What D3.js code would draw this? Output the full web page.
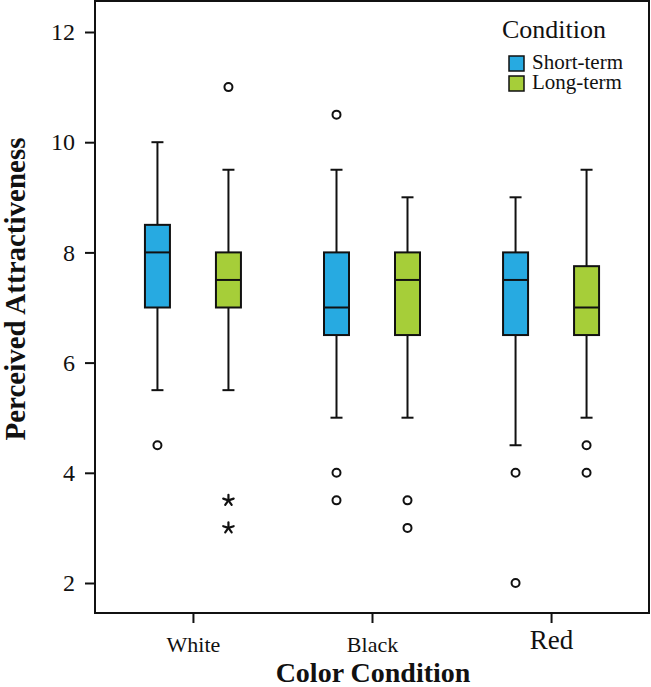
<!DOCTYPE html>
<html>
<head>
<meta charset="utf-8">
<script src="https://cdn.jsdelivr.net/npm/d3@7"></script>
<style>
  html, body { margin: 0; padding: 0; background: #fff; }
  svg { display: block; font-family: "Liberation Serif", "Times New Roman", serif; }
</style>
</head>
<body>
<svg id="chart" width="651" height="687"></svg>
<script>
(function () {
    'use strict';

    const categories = ['White', 'Black', 'Red'];
    const series = ['Short-term', 'Long-term'];
    const seriesColors = ['#27aae1', '#a6ce39'];
    const yTicks = [2, 4, 6, 8, 10, 12];

    // [lowWhisker, q1, median, q3, highWhisker] per category, per series
    const shortTermStats = [
        [5.5, 7, 8, 8.5, 10],
        [5, 6.5, 7, 8, 9.5],
        [4.5, 6.5, 7.5, 8, 9]
    ];
    const longTermStats = [
        [5.5, 7, 7.5, 8, 9.5],
        [5, 6.5, 7.5, 8, 9],
        [5, 6.5, 7, 7.75, 9.5]
    ];
    // outliers (circles) and extremes (stars)
    const shortTermOutliers = [[4.5], [10.5, 4, 3.5], [4, 2]];
    const longTermOutliers = [[11], [3.5, 3], [4.5, 4]];
    const shortTermExtremes = [[], [], []];
    const longTermExtremes = [[3.5, 3], [], []];

    const statsBySeries = [shortTermStats, longTermStats];
    const outliersBySeries = [shortTermOutliers, longTermOutliers];
    const extremesBySeries = [shortTermExtremes, longTermExtremes];

    const frame = { left: 95, right: 649, top: 1, bottom: 613 };
    const boxW = 25;
    const capW = 12;
    const seriesOffset = 35.5;

    const svg = d3.select('#chart');

    const x = d3.scalePoint()
        .domain(categories)
        .range([frame.left, frame.right])
        .padding(0.547);

    const y = d3.scaleLinear()
        .domain([2, 12])
        .range([583, 32]);

    // frame
    svg.append('rect')
        .attr('x', frame.left)
        .attr('y', frame.top)
        .attr('width', frame.right - frame.left)
        .attr('height', frame.bottom - frame.top)
        .attr('fill', 'none')
        .attr('stroke', '#111')
        .attr('stroke-width', 2);

    // y axis
    const yAxis = svg.append('g')
        .attr('transform', `translate(${frame.left},0)`)
        .call(d3.axisLeft(y).tickValues(yTicks).tickSize(10).tickPadding(10).tickFormat(d3.format('d')));
    yAxis.select('.domain').remove();
    yAxis.selectAll('line').attr('stroke', '#111').attr('stroke-width', 2);
    yAxis.selectAll('text')
        .attr('font-family', '"Liberation Serif", serif')
        .attr('font-size', 24)
        .attr('fill', '#111');

    // x axis
    const xAxis = svg.append('g')
        .attr('transform', `translate(0,${frame.bottom})`)
        .call(d3.axisBottom(x).tickSize(10));
    xAxis.select('.domain').remove();
    xAxis.selectAll('line').attr('stroke', '#111').attr('stroke-width', 2);
    xAxis.selectAll('text')
        .attr('font-family', '"Liberation Serif", serif')
        .attr('font-size', (d) => (d === 'Red' ? 27 : 22))
        .attr('dy', 0)
        .attr('y', (d) => (d === 'Red' ? 36 : 39))
        .attr('fill', '#111');

    // axis titles
    svg.append('text')
        .attr('x', x('Black') + 1)
        .attr('y', 682)
        .attr('text-anchor', 'middle')
        .attr('font-size', 28)
        .attr('font-weight', 'bold')
        .attr('fill', '#111')
        .text('Color Condition');

    svg.append('text')
        .attr('transform', 'translate(25,289) rotate(-90)')
        .attr('text-anchor', 'middle')
        .attr('font-size', 29)
        .attr('font-weight', 'bold')
        .attr('fill', '#111')
        .text('Perceived Attractiveness');

    // boxes
    series.forEach((s, si) => {
        const dx = si === 0 ? -seriesOffset : seriesOffset;
        categories.forEach((cat, ci) => {
            const [lo, q1, med, q3, hi] = statsBySeries[si][ci];
            const cx = x(cat) + dx;
            const g = svg.append('g').attr('class', 'box');

            g.append('line')
                .attr('x1', cx).attr('x2', cx)
                .attr('y1', y(hi)).attr('y2', y(q3))
                .attr('stroke', '#111').attr('stroke-width', 2);
            g.append('line')
                .attr('x1', cx).attr('x2', cx)
                .attr('y1', y(q1)).attr('y2', y(lo))
                .attr('stroke', '#111').attr('stroke-width', 2);
            [lo, hi].forEach((v) => {
                g.append('line')
                    .attr('x1', cx - capW / 2).attr('x2', cx + capW / 2)
                    .attr('y1', y(v)).attr('y2', y(v))
                    .attr('stroke', '#111').attr('stroke-width', 2);
            });
            g.append('rect')
                .attr('x', cx - boxW / 2)
                .attr('y', y(q3))
                .attr('width', boxW)
                .attr('height', y(q1) - y(q3))
                .attr('fill', seriesColors[si])
                .attr('stroke', '#111')
                .attr('stroke-width', 2);
            g.append('line')
                .attr('x1', cx - boxW / 2).attr('x2', cx + boxW / 2)
                .attr('y1', y(med)).attr('y2', y(med))
                .attr('stroke', '#111').attr('stroke-width', 2);

            outliersBySeries[si][ci].forEach((v) => {
                g.append('circle')
                    .attr('cx', cx)
                    .attr('cy', y(v))
                    .attr('r', 4)
                    .attr('fill', '#fff')
                    .attr('stroke', '#111')
                    .attr('stroke-width', 2);
            });

            extremesBySeries[si][ci].forEach((v) => {
                const star = g.append('g').attr('transform', `translate(${cx},${y(v)})`);
                d3.range(5).forEach((k) => {
                    const a = -Math.PI / 2 + k * 2 * Math.PI / 5;
                    star.append('line')
                        .attr('x1', 0).attr('y1', 0)
                        .attr('x2', Math.cos(a) * 5.5)
                        .attr('y2', Math.sin(a) * 5.5)
                        .attr('stroke', '#111')
                        .attr('stroke-width', 2.2)
                        .attr('stroke-linecap', 'round');
                });
            });
        });
    });

    // legend
    const legend = svg.append('g').attr('transform', 'translate(502,0)');
    legend.append('text')
        .attr('x', 0)
        .attr('y', 38)
        .attr('font-size', 26)
        .attr('fill', '#111')
        .text('Condition');
    series.forEach((s, i) => {
        legend.append('rect')
            .attr('x', 7)
            .attr('y', 56 + i * 20)
            .attr('width', 15)
            .attr('height', 15)
            .attr('fill', seriesColors[i])
            .attr('stroke', '#111')
            .attr('stroke-width', 1.5);
        legend.append('text')
            .attr('x', 30)
            .attr('y', 69 + i * 20)
            .attr('font-size', 21)
            .attr('fill', '#111')
            .text(s);
    });
})();
</script>
</body>
</html>
